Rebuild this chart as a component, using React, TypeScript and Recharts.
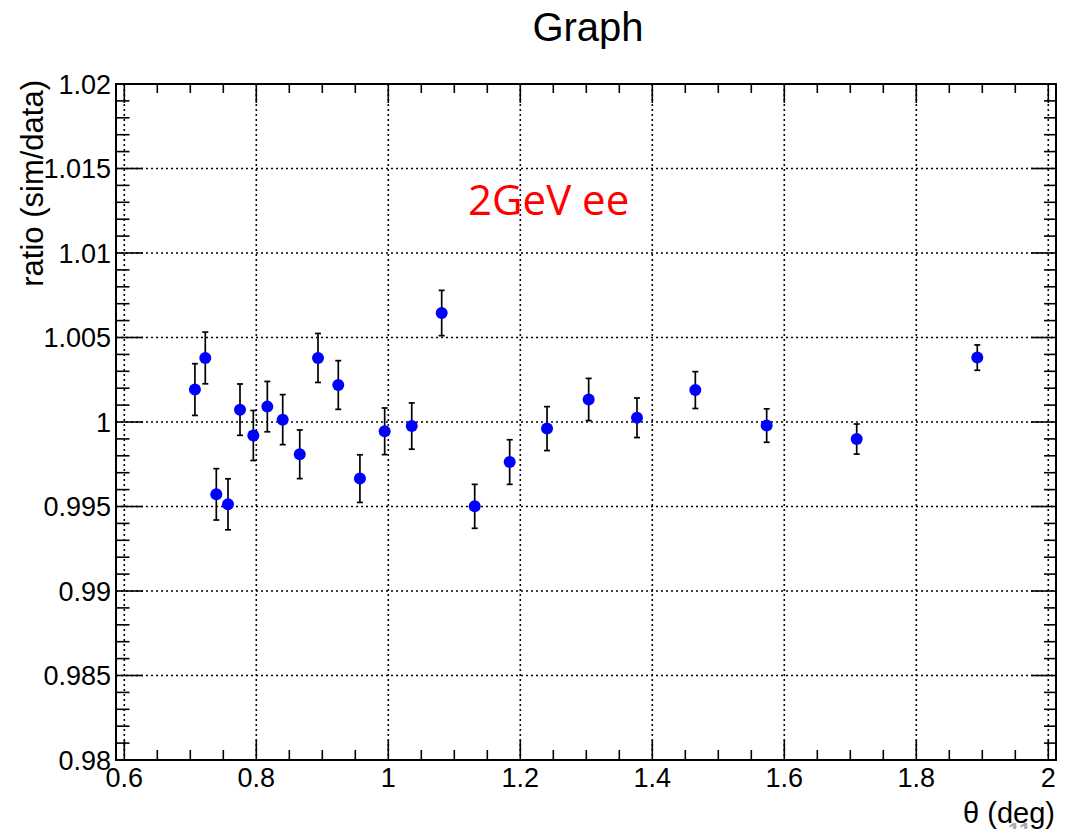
import {
  ScatterChart,
  Scatter,
  XAxis,
  YAxis,
  CartesianGrid,
  ErrorBar,
  ReferenceArea
} from 'recharts';

// theta (deg) of each measurement
const thetaDeg = [
  0.707, 0.7227, 0.7394, 0.7571, 0.7753, 0.7955, 0.8167, 0.84, 0.8658, 0.8935,
  0.9242, 0.957, 0.9945, 1.0355, 1.0809, 1.1309, 1.1839, 1.2405, 1.3036, 1.3768,
  1.4652, 1.5733, 1.7097, 1.8924
];

// sim/data ratio
const ratio = [
  1.00192, 1.00379, 0.99572, 0.99513, 1.00073, 0.9992, 1.00091, 1.00014, 0.99809, 1.00379,
  1.00219, 0.99665, 0.99945, 0.99976, 1.00645, 0.99501, 0.99763, 0.99961, 1.00133, 1.00025,
  1.00189, 0.99979, 0.99899, 1.00381
];

// symmetric error on the ratio
const ratioErr = [
  0.00153, 0.00153, 0.00152, 0.00151, 0.00152, 0.00148, 0.00149, 0.00148, 0.00144, 0.00145,
  0.00144, 0.00141, 0.00138, 0.00137, 0.00134, 0.0013, 0.00132, 0.0013, 0.00125, 0.00117,
  0.00109, 0.00099, 0.00089, 0.00075
];

const xMajorTicks = [0.6, 0.8, 1, 1.2, 1.4, 1.6, 1.8, 2];
const yMajorTicks = [0.98, 0.985, 0.99, 0.995, 1, 1.005, 1.01, 1.015, 1.02];

const X_DOMAIN: [number, number] = [0.58742, 2.01167];
const Y_DOMAIN: [number, number] = [0.98, 1.02];

// minor ticks: 4 per major step on x, 5 per major step on y
const subdivide = (majors: number[], n: number, digits: number) => {
  const out: number[] = [];
  for (let i = 0; i < majors.length - 1; i++) {
    const step = (majors[i + 1] - majors[i]) / n;
    for (let k = 0; k < n; k++) out.push(Number((majors[i] + k * step).toFixed(digits)));
  }
  out.push(majors[majors.length - 1]);
  return out;
};
const xAllTicks = subdivide(xMajorTicks, 4, 3);
const yAllTicks = subdivide(yMajorTicks, 5, 4);

const points = thetaDeg.map((x, i) => ({ x, y: ratio[i], err: ratioErr[i] }));

const W = 1076;
const H = 829;
const PLOT_LEFT = 116;
const PLOT_RIGHT = 1056;
const PLOT_TOP = 84;
const PLOT_BOTTOM = 760;

const FONT = '"Liberation Sans", Arial, Helvetica, sans-serif';

const isMajor = (v: number, majors: number[]) => majors.some(m => Math.abs(m - v) < 1e-7);

const XTick = (props: any) => {
  const { x, payload } = props;
  const v = payload.value;
  const major = isMajor(v, xMajorTicks);
  return (
    <g>
      <line x1={x} x2={x} y1={PLOT_BOTTOM} y2={PLOT_BOTTOM - (major ? 20 : 10)} stroke="#000" strokeWidth={1.6} />
      <line x1={x} x2={x} y1={PLOT_TOP} y2={PLOT_TOP + (major ? 19 : 9)} stroke="#000" strokeWidth={1.6} />
      {major && (
        <text x={x} y={787} textAnchor="middle" fontFamily={FONT} fontSize={27} fill="#000">
          {String(v)}
        </text>
      )}
    </g>
  );
};

const YTick = (props: any) => {
  const { y, payload } = props;
  const v = payload.value;
  const major = isMajor(v, yMajorTicks);
  return (
    <g>
      <line x1={PLOT_LEFT} x2={PLOT_LEFT + (major ? 27 : 13.5)} y1={y} y2={y} stroke="#000" strokeWidth={1.6} />
      <line x1={PLOT_RIGHT} x2={PLOT_RIGHT - (major ? 25 : 12)} y1={y} y2={y} stroke="#000" strokeWidth={1.6} />
      {major && (
        <text x={111} y={y + 9.5} textAnchor="end" fontFamily={FONT} fontSize={27} fill="#000">
          {String(v)}
        </text>
      )}
    </g>
  );
};

const Dot = (props: any) => <circle cx={props.cx} cy={props.cy} r={6} fill="#0000ff" />;

export default function App() {
  return (
    <div style={{ position: 'absolute', left: 0, top: 0, width: W, height: H, background: '#fff' }}>
      <ScatterChart
        width={W}
        height={H}
        margin={{ top: PLOT_TOP, right: W - PLOT_RIGHT, bottom: 0, left: 0 }}
      >
        <CartesianGrid
          verticalValues={xMajorTicks}
          horizontalValues={yMajorTicks}
          stroke="#000"
          strokeWidth={1.6}
          strokeDasharray="2 3"
        />
        <XAxis
          type="number"
          dataKey="x"
          domain={X_DOMAIN}
          ticks={xAllTicks}
          interval={0}
          allowDataOverflow
          height={H - PLOT_BOTTOM}
          axisLine={false}
          tickLine={false}
          tick={(p: any) => <XTick {...p} />}
        />
        <YAxis
          type="number"
          dataKey="y"
          domain={Y_DOMAIN}
          ticks={yAllTicks}
          interval={0}
          allowDataOverflow
          width={PLOT_LEFT}
          axisLine={false}
          tickLine={false}
          tick={(p: any) => <YTick {...p} />}
        />
        <ReferenceArea
          x1={X_DOMAIN[0]}
          x2={X_DOMAIN[1]}
          y1={Y_DOMAIN[0]}
          y2={Y_DOMAIN[1]}
          fill="none"
          fillOpacity={0}
          stroke="#000"
          strokeWidth={2}
          ifOverflow="visible"
        />
        <Scatter data={points} shape={Dot} isAnimationActive={false}>
          <ErrorBar dataKey="err" direction="y" width={3} stroke="#000" strokeWidth={1.7} isAnimationActive={false} />
        </Scatter>
      </ScatterChart>

      <svg
        width={W}
        height={H}
        style={{ position: 'absolute', left: 0, top: 0, pointerEvents: 'none' }}
      >
        <text x={1008} y={838} fontFamily={FONT} fontSize={22} fontWeight="bold" fill="#aaa">
          11
        </text>
        <text x={588} y={41} textAnchor="middle" fontFamily={FONT} fontSize={40} fill="#000">
          Graph
        </text>
        <text
          transform="translate(43, 80) rotate(-90)"
          textAnchor="end"
          fontFamily={FONT}
          fontSize={31}
          fill="#000"
        >
          ratio (sim/data)
        </text>
        <text x={1055} y={823} textAnchor="end" fontFamily={FONT} fontSize={29} fill="#000">
          θ (deg)
        </text>
        <text x={468} y={215} fontFamily='"Open Sans", "DejaVu Sans", sans-serif' fontSize={42} fill="#ff0000">
          2GeV ee
        </text>
      </svg>
    </div>
  );
}
